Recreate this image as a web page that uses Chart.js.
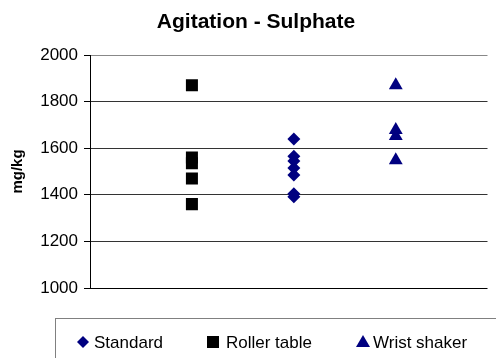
<!DOCTYPE html>
<html>
<head>
<meta charset="utf-8">
<script src="https://cdn.jsdelivr.net/npm/chart.js@4"></script>
<style>
  html, body { margin: 0; padding: 0; background: #fff; }
  #wrap { width: 496px; height: 358px; position: relative; }
</style>
</head>
<body>
<div id="wrap"><canvas id="chart" width="496" height="358"></canvas></div>
<script>
// Data
const chartTitle = 'Agitation - Sulphate';
const seriesNames = ['Standard', 'Roller table', 'Wrist shaker'];
const seriesX = [2, 1, 3];           // category position of each series
const standardValues = [1640, 1565, 1545, 1515, 1485, 1405, 1392];
const rollerValues = [1870, 1560, 1535, 1470, 1360];
const wristValues = [1870, 1678, 1652, 1548];
const yTicks = [1000, 1200, 1400, 1600, 1800, 2000];

const NAVY = '#000080';
const FONT = '"Liberation Sans", Arial, sans-serif';

function toPoints(x, values) {
  return values.map(v => ({ x: x, y: v }));
}

// Draws the little marker shapes (used for the legend)
function drawMarker(ctx, style, x, y, color) {
  ctx.save();
  ctx.fillStyle = color;
  ctx.beginPath();
  if (style === 'rectRot') {
    ctx.moveTo(x, y - 6); ctx.lineTo(x + 6, y); ctx.lineTo(x, y + 6); ctx.lineTo(x - 6, y);
  } else if (style === 'rect') {
    ctx.rect(x - 6, y - 6, 12, 12);
  } else {
    ctx.moveTo(x, y - 7); ctx.lineTo(x + 7, y + 5); ctx.lineTo(x - 7, y + 5);
  }
  ctx.closePath();
  ctx.fill();
  ctx.restore();
}

const decorations = {
  id: 'decorations',
  afterDraw(chart) {
    const ctx = chart.ctx;
    ctx.save();
    // title
    ctx.fillStyle = '#000';
    ctx.font = 'bold 21px ' + FONT;
    ctx.textAlign = 'center';
    ctx.textBaseline = 'middle';
    ctx.fillText(chartTitle, 256, 22);

    // legend box
    ctx.strokeStyle = '#808080';
    ctx.lineWidth = 1;
    ctx.strokeRect(55.5, 318.5, 460, 60);

    ctx.font = '17px ' + FONT;
    ctx.textAlign = 'left';
    const items = [
      { mx: 83, tx: 94, ds: 0 },
      { mx: 213, tx: 226, ds: 1 },
      { mx: 363, tx: 373, ds: 2 }
    ];
    items.forEach(it => {
      const d = chart.data.datasets[it.ds];
      drawMarker(ctx, d.pointStyle, it.mx, 342, d.backgroundColor);
      ctx.fillStyle = '#000';
      ctx.fillText(d.label, it.tx, 343);
    });
    ctx.restore();
  }
};

const ctx = document.getElementById('chart').getContext('2d');
const chart = new Chart(ctx, {
  type: 'scatter',
  data: {
    datasets: [
      {
        label: seriesNames[0],
        data: toPoints(seriesX[0], standardValues),
        pointStyle: 'rectRot',
        pointRadius: 6.5,
        borderWidth: 0,
        backgroundColor: NAVY,
        borderColor: NAVY
      },
      {
        label: seriesNames[1],
        data: toPoints(seriesX[1], rollerValues),
        pointStyle: 'rect',
        pointRadius: 8.5,
        borderWidth: 0,
        backgroundColor: '#000',
        borderColor: '#000'
      },
      {
        label: seriesNames[2],
        data: toPoints(seriesX[2], wristValues),
        pointStyle: 'triangle',
        pointRadius: 8,
        borderWidth: 0,
        backgroundColor: NAVY,
        borderColor: NAVY
      }
    ]
  },
  options: {
    responsive: false,
    animation: false,
    layout: { padding: { top: 55, bottom: 70, left: 0, right: 0 } },
    plugins: {
      legend: { display: false },
      title: { display: false },
      tooltip: { enabled: false }
    },
    scales: {
      x: {
        type: 'linear',
        min: 0,
        max: 3.9,
        display: false
      },
      y: {
        min: yTicks[0],
        max: yTicks[yTicks.length - 1],
        afterBuildTicks: scale => {
          scale.ticks = yTicks.map(v => ({ value: v }));
        },
        afterFit: scale => { scale.width = 90; },
        ticks: {
          color: '#000',
          font: { family: FONT, size: 17 },
          padding: 6,
          callback: v => String(v)
        },
        grid: {
          color: c => (c.tick && c.tick.value === 2000 ? '#888888' : (c.tick && c.tick.value === 1000 ? '#000' : '#333333')),
          tickColor: '#000',
          tickLength: 6,
          lineWidth: 1
        },
        border: { display: true, color: '#000', width: 1 },
        title: {
          display: true,
          text: 'mg/kg',
          color: '#000',
          font: { family: FONT, size: 15, weight: 'bold' },
          padding: { top: 9, bottom: 4 }
        }
      }
    }
  },
  plugins: [decorations]
});
</script>
</body>
</html>
